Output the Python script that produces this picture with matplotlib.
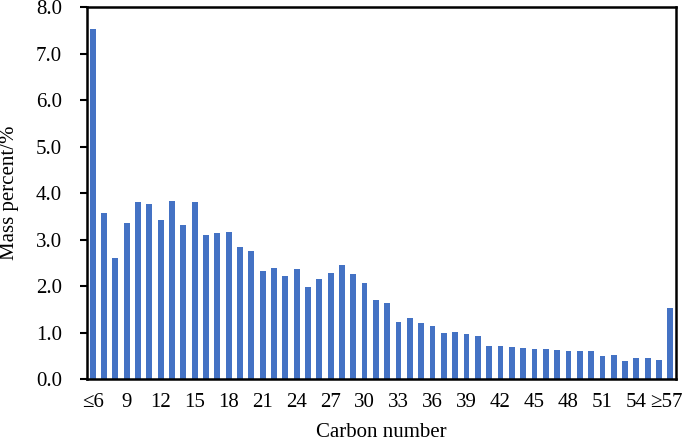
import numpy as np
import matplotlib.pyplot as plt
import matplotlib.transforms as mtransforms

plt.rcParams['font.family'] = ['Liberation Serif', 'DejaVu Serif']

# carbon number categories (≤6 ... ≥57)
carbons = ['≤6'] + [str(c) for c in range(7, 57)] + ['≥57']
mass = [7.53, 3.57, 2.60, 3.35, 3.80, 3.77, 3.43, 3.84, 3.32, 3.80,
        3.09, 3.14, 3.17, 2.84, 2.75, 2.32, 2.40, 2.21, 2.36, 1.99,
        2.16, 2.29, 2.45, 2.27, 2.07, 1.71, 1.63, 1.23, 1.32, 1.20,
        1.14, 1.00, 1.01, 0.96, 0.92, 0.72, 0.72, 0.70, 0.67, 0.65,
        0.64, 0.62, 0.60, 0.60, 0.60, 0.50, 0.52, 0.38, 0.45, 0.45,
        0.41, 1.53]

x = np.arange(len(carbons))

fig = plt.figure(figsize=(6.85, 4.46), dpi=100)
ax = fig.add_axes([0.127, 0.150, 0.860, 0.834])
ax.bar(x, mass, width=0.52, color='#4472C4')

ax.set_xlim(-0.5, len(carbons) - 0.5)
ax.set_ylim(0, 8)
ax.set_yticks(np.arange(0, 8.1, 1.0))
ax.set_yticklabels([f'{v:.1f}' for v in np.arange(0, 8.1, 1.0)], fontsize=15)
ax.set_xticks(x[::3])
ax.set_xticklabels(carbons[::3], fontsize=15)
ax.tick_params(axis='x', length=0, pad=10)
ax.tick_params(axis='y', length=5, width=1.5, direction='out', pad=13)

# last label sits right at the figure edge, nudge it in a bit
last = ax.get_xticklabels()[-1]
last.set_transform(last.get_transform() +
                   mtransforms.ScaledTranslation(-4 / 100, 0, fig.dpi_scale_trans))

for s in ax.spines.values():
    s.set_linewidth(1.8)

ax.set_xlabel('Carbon number', fontsize=15, labelpad=8)
ax.set_ylabel('Mass percent/%', fontsize=15, labelpad=12)

fig.savefig('out.png', dpi=100)
